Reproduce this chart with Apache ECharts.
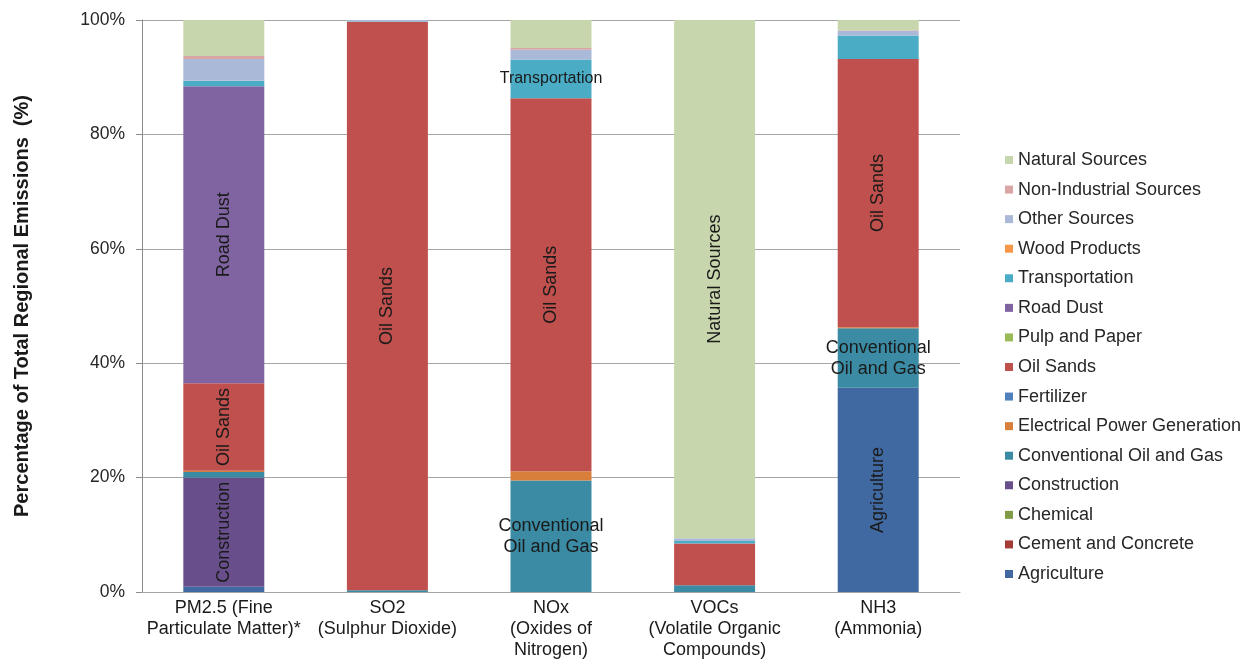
<!DOCTYPE html>
<html>
<head>
<meta charset="utf-8">
<title>Regional Emissions by Source</title>
<script src="https://cdn.jsdelivr.net/npm/echarts@6/dist/echarts.min.js"></script>
<style>
  html, body { margin: 0; padding: 0; background: #ffffff; }
  #chart { width: 1253px; height: 669px; }
</style>
</head>
<body>
<div id="chart"></div>
<script>
// Pollutant categories (x axis)
const categories = [
  'PM2.5 (Fine\nParticulate Matter)*',
  'SO2\n(Sulphur Dioxide)',
  'NOx\n(Oxides of\nNitrogen)',
  'VOCs\n(Volatile Organic\nCompounds)',
  'NH3\n(Ammonia)'
];

// Share of total regional emissions (%) per source, in category order
const agriculture     = [0.9, 0, 0, 0, 35.7];
const cementConcrete  = [0, 0, 0, 0, 0];
const chemical        = [0, 0, 0, 0, 0];
const construction    = [19.1, 0, 0, 0, 0];
const conventionalOG  = [1.0, 0.3, 19.5, 1.2, 10.4];
const electricalPower = [0.2, 0, 1.6, 0, 0.2];
const fertilizer      = [0, 0, 0, 0, 0];
const oilSands        = [15.3, 99.4, 65.2, 7.3, 46.9];
const pulpPaper       = [0, 0, 0, 0, 0];
const roadDust        = [51.9, 0, 0, 0, 0];
const transportation  = [1.0, 0.1, 6.8, 0.4, 4.1];
const woodProducts    = [0, 0, 0, 0, 0];
const otherSources    = [3.8, 0.2, 1.7, 0.5, 0.8];
const nonIndustrial   = [0.5, 0, 0.3, 0, 0.1];
const naturalSources  = [6.3, 0, 4.9, 90.6, 1.8];

// Y axis tick labels
const yTicks = ['0%', '20%', '40%', '60%', '80%', '100%'];

// Sources, stacked bottom to top
const sources = [
  { name: 'Agriculture', data: agriculture, color: '#3f69a0' },
  { name: 'Cement and Concrete', data: cementConcrete, color: '#a33c39' },
  { name: 'Chemical', data: chemical, color: '#809b47' },
  { name: 'Construction', data: construction, color: '#684f8b' },
  { name: 'Conventional Oil and Gas', data: conventionalOG, color: '#3a8ba3' },
  { name: 'Electrical Power Generation', data: electricalPower, color: '#d8803b' },
  { name: 'Fertilizer', data: fertilizer, color: '#4f81bd' },
  { name: 'Oil Sands', data: oilSands, color: '#c0504d' },
  { name: 'Pulp and Paper', data: pulpPaper, color: '#9bbb59' },
  { name: 'Road Dust', data: roadDust, color: '#8064a2' },
  { name: 'Transportation', data: transportation, color: '#4bacc6' },
  { name: 'Wood Products', data: woodProducts, color: '#f79646' },
  { name: 'Other Sources', data: otherSources, color: '#aab9d7' },
  { name: 'Non-Industrial Sources', data: nonIndustrial, color: '#d9a6a5' },
  { name: 'Natural Sources', data: naturalSources, color: '#c7d6ad' }
];

// In-bar annotations: [source, category index, text, rotated]
const segmentLabels = [
  ['Construction', 0, 'Construction', true],
  ['Oil Sands', 0, 'Oil Sands', true],
  ['Road Dust', 0, 'Road Dust', true],
  ['Oil Sands', 1, 'Oil Sands', true],
  ['Conventional Oil and Gas', 2, 'Conventional\nOil and Gas', false],
  ['Oil Sands', 2, 'Oil Sands', true],
  ['Transportation', 2, 'Transportation', false],
  ['Natural Sources', 3, 'Natural Sources', true],
  ['Agriculture', 4, 'Agriculture', true],
  ['Conventional Oil and Gas', 4, 'Conventional\nOil and Gas', false],
  ['Oil Sands', 4, 'Oil Sands', true]
];

const FONT = '"Liberation Sans", Arial, sans-serif';

const series = sources.map(src => ({
  name: src.name,
  type: 'bar',
  stack: 'total',
  barWidth: '49.5%',
  itemStyle: { color: src.color },
  emphasis: { disabled: true },
  data: src.data.map((v, i) => {
    const lab = segmentLabels.find(l => l[0] === src.name && l[1] === i);
    if (!lab) return v;
    // the single-line horizontal label is set a little tighter to sit across the bar
    const tight = !lab[3] && lab[2].indexOf('\n') < 0;
    return {
      value: v,
      label: {
        show: true,
        position: 'inside',
        formatter: lab[2],
        rotate: lab[3] ? 90 : 0,
        color: '#1a1a1a',
        fontFamily: FONT,
        fontSize: tight ? 16 : 18,
        lineHeight: 21,
        align: 'center'
      }
    };
  })
}));

const chart = echarts.init(document.getElementById('chart'), null, { renderer: 'canvas' });
chart.setOption({
  animation: false,
  backgroundColor: '#ffffff',
  grid: { left: 142, right: 293, top: 20, bottom: 77, containLabel: false },
  legend: {
    orient: 'vertical',
    left: 1000,
    top: 146,
    icon: 'rect',
    itemWidth: 8,
    itemHeight: 8,
    itemGap: 11.57,
    data: sources.map(s => s.name).reverse(),
    textStyle: { fontFamily: FONT, fontSize: 18, lineHeight: 18, color: '#262626', padding: [0, 0, 0, 0] }
  },
  xAxis: {
    type: 'category',
    data: categories,
    axisLine: { lineStyle: { color: '#a6a6a6', width: 1 } },
    axisTick: { show: false },
    axisLabel: {
      fontFamily: FONT, fontSize: 18, lineHeight: 21, color: '#1a1a1a',
      margin: 6, interval: 0
    }
  },
  yAxis: {
    type: 'value',
    min: 0,
    max: 100,
    interval: 20,
    name: 'Percentage of Total Regional Emissions  (%)',
    nameLocation: 'middle',
    nameGap: 110,
    nameTextStyle: { fontFamily: FONT, fontSize: 20, fontWeight: 'bold', color: '#1a1a1a' },
    axisLine: { show: true, lineStyle: { color: '#8c8c8c' } },
    axisTick: { show: true, length: 6, lineStyle: { color: '#8c8c8c' } },
    splitLine: { lineStyle: { color: '#a6a6a6', width: 1 } },
    axisLabel: {
      fontFamily: FONT, fontSize: 17.5, color: '#262626', margin: 17,
      formatter: v => yTicks[Math.round(v / 20)]
    }
  },
  series: series
});
</script>
</body>
</html>
